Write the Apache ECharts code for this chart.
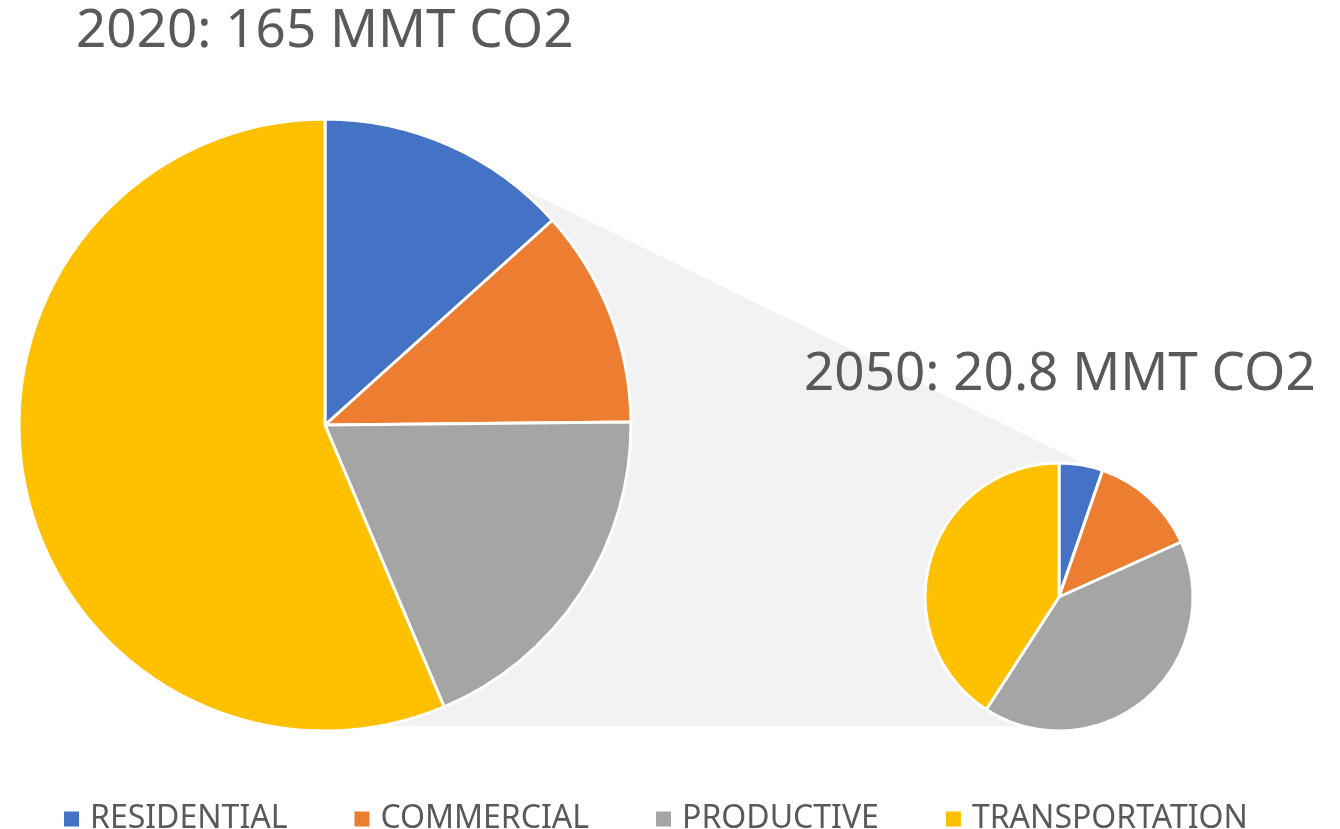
<!DOCTYPE html>
<html>
<head>
<meta charset="utf-8">
<script src="https://cdn.jsdelivr.net/npm/echarts@6/dist/echarts.min.js"></script>
<style>
html,body{margin:0;padding:0;background:#fff;}
#main{width:1340px;height:829px;}
</style>
</head>
<body>
<div id="main"></div>
<script>
// sectors
var categories = ['RESIDENTIAL', 'COMMERCIAL', 'PRODUCTIVE', 'TRANSPORTATION'];
var colors = ['#4472c4', '#ed7d31', '#a5a5a5', '#ffc000'];
// MMT CO2
var values2020 = [22, 19, 31, 93];
var values2050 = [1.1, 2.7, 8.5, 8.5];
var titles = ['2020: 165 MMT CO2', '2050: 20.8 MMT CO2'];

/*---- pie geometry ----*/
var big = {cx: 325, cy: 425, r: 306};
var small = {cx: 1059, cy: 597, r: 134};

function onCircle(c, deg, k) {
    var a = deg * Math.PI / 180;
    return [c.cx + c.r * k * Math.sin(a), c.cy - c.r * k * Math.cos(a)];
}

// grey band joining the two pies
var bandBottom = small.cy + small.r * 0.965;
var band = [
    [big.cx, big.cy],
    onCircle(big, 38.3, 1.0),
    onCircle(small, 7.5, 1.03),
    [small.cx, small.cy],
    [small.cx, bandBottom],
    [big.cx, bandBottom]
];

function toData(vals) {
    return vals.map(function (v, i) {
        return {value: v, name: categories[i]};
    });
}

var chart = echarts.init(document.getElementById('main'));

var titleFont = {fontFamily: 'Noto Sans', fontSize: 53, fontWeight: 'normal', color: '#595959'};

var option = {
    animation: false,
    color: colors,
    title: [
        {text: titles[0], left: 71, top: 0, textStyle: titleFont},
        {text: titles[1], left: 799, top: 343, textStyle: titleFont}
    ],
    legend: {
        data: categories,
        left: 57,
        top: 798,
        icon: 'rect',
        itemWidth: 17,
        itemHeight: 17,
        itemGap: 65,
        textStyle: {fontFamily: 'Noto Sans', fontSize: 32, color: '#595959', padding: [0, 0, 0, 5]}
    },
    graphic: [
        {
            type: 'polygon',
            z: 0,
            silent: true,
            shape: {points: band},
            style: {fill: '#f2f2f2'}
        }
    ],
    series: [
        {
            name: '2020',
            type: 'pie',
            z: 5,
            center: [big.cx, big.cy],
            radius: [0, big.r],
            startAngle: 90,
            clockwise: true,
            label: {show: false},
            labelLine: {show: false},
            itemStyle: {borderColor: '#fff', borderWidth: 3},
            emphasis: {scale: false},
            data: toData(values2020)
        },
        {
            name: '2050',
            type: 'pie',
            z: 5,
            center: [small.cx, small.cy],
            radius: [0, small.r],
            startAngle: 90,
            clockwise: true,
            label: {show: false},
            labelLine: {show: false},
            itemStyle: {borderColor: '#fff', borderWidth: 3},
            emphasis: {scale: false},
            data: toData(values2050)
        }
    ]
};

chart.setOption(option);
</script>
</body>
</html>
